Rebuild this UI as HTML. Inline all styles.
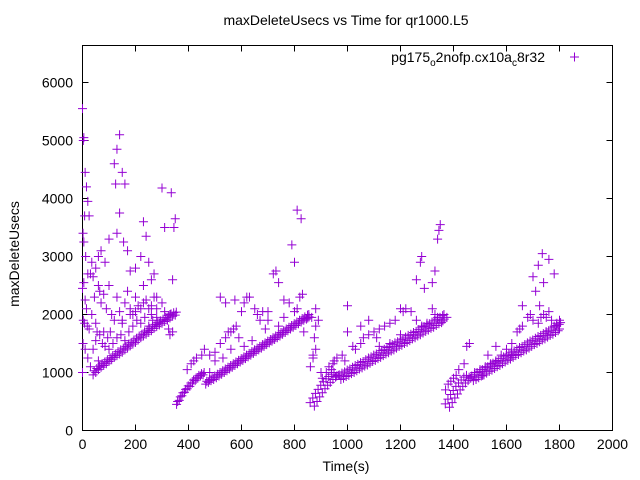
<!DOCTYPE html>
<html><head><meta charset="utf-8"><style>
html,body{margin:0;padding:0;background:#fff;}
svg{display:block;font-family:"Liberation Sans",sans-serif;}
</style></head><body>
<svg id="chart" width="640" height="480">
<text x="346" y="25" text-anchor="middle" font-size="14">maxDeleteUsecs vs Time for qr1000.L5</text>
<text x="346" y="471" text-anchor="middle" font-size="14">Time(s)</text>
<text transform="translate(19,254) rotate(-90)" text-anchor="middle" font-size="14">maxDeleteUsecs</text>
<g id="axes"></g>
<g id="points"></g>
<g>
<text x="545" y="62" text-anchor="end" font-size="14">pg175<tspan font-size="10" dy="4">o</tspan><tspan dy="-4">2nofp.cx10a</tspan><tspan font-size="10" dy="4">c</tspan><tspan dy="-4">8r32</tspan></text>
<path d="M570,57h9M574.5,52.5v9" stroke="#9400d3" stroke-width="1"/>
</g>
</svg>
<script>
const xTicks=[0,200,400,600,800,1000,1200,1400,1600,1800,2000];
const yTicks=[0,1000,2000,3000,4000,5000,6000];
const rampT=[40,50,60,70,80,90,100,110,120,130,140,150,160,170,180,190,200,210,220,230,240,250,260,270,280,290,300,310,320,330,340,350,
355,365,375,385,395,405,415,425,435,445,455,465,475,485,495,505,515,525,535,545,555,565,575,585,595,605,615,625,635,645,655,665,675,685,695,705,715,725,735,745,755,765,775,785,795,805,815,825,835,845,850,
855,865,875,885,895,905,915,925,935,945,955,965,975,985,995,1005,1015,1025,1035,1045,1055,1065,1075,1085,1095,1105,1115,1125,1135,1145,1155,1165,1175,1185,1195,1205,1215,1225,1235,1245,1255,1265,1275,1285,1295,1305,1315,1325,1335,1345,1355,1360,
1365,1375,1385,1395,1405,1415,1425,1435,1445,1455,1465,1475,1485,1495,1505,1515,1525,1535,1545,1555,1565,1575,1585,1595,1605,1615,1625,1635,1645,1655,1665,1675,1685,1695,1705,1715,1725,1735,1745,1755,1765,1775,1785,1795,1800];
const rampV=[960,1000,1050,1090,1120,1150,1190,1220,1260,1290,1320,1350,1390,1420,1460,1490,1520,1560,1600,1630,1660,1690,1720,1760,1790,1820,1850,1880,1910,1940,1970,1990,
450,520,600,660,720,760,820,860,900,940,960,800,830,860,880,910,940,970,1000,1030,1060,1090,1120,1150,1180,1210,1240,1270,1300,1330,1360,1390,1420,1450,1480,1510,1540,1570,1600,1630,1660,1690,1720,1750,1780,1810,1840,1870,1900,1920,1940,1960,1950,
420,500,580,650,720,780,830,880,920,950,880,900,930,950,980,1000,1030,1060,1080,1110,1130,1160,1190,1210,1240,1260,1290,1320,1340,1370,1390,1420,1450,1470,1500,1520,1550,1580,1600,1630,1650,1680,1710,1730,1760,1780,1810,1840,1860,1890,1920,1950,
400,480,560,630,700,760,820,860,900,860,880,910,940,960,990,1020,1040,1070,1100,1120,1150,1180,1210,1230,1260,1290,1310,1340,1370,1390,1420,1450,1480,1500,1530,1560,1580,1610,1640,1660,1690,1720,1750,1770,1800];
const rampV2=[1030,1070,1110,1150,1180,1220,1250,1290,1320,1360,1390,1420,1450,1490,1520,1560,1590,1630,1660,1700,1730,1760,1800,1830,1860,1890,1920,1950,1980,2010,2030,2040,
500,580,650,710,770,820,870,910,950,980,1000,850,880,910,940,970,1000,1030,1060,1090,1120,1150,1180,1210,1240,1270,1300,1330,1360,1390,1420,1450,1480,1510,1540,1570,1600,1630,1660,1690,1720,1750,1780,1810,1840,1870,1900,1930,1960,1990,2000,
480,560,640,710,780,840,890,930,970,1000,940,960,990,1010,1040,1060,1090,1120,1140,1170,1190,1220,1250,1270,1300,1320,1350,1380,1400,1430,1450,1480,1510,1530,1560,1580,1610,1640,1660,1690,1710,1740,1770,1790,1820,1840,1870,1900,1920,1950,1980,2000,
460,540,620,690,760,820,870,920,950,920,940,970,1000,1020,1050,1080,1100,1130,1160,1180,1210,1240,1270,1290,1320,1350,1370,1400,1430,1450,1480,1510,1540,1560,1590,1620,1640,1670,1700,1720,1750,1780,1810,1830,1860];
const scatT=[0,5,3,10,15,20,25,8,2,5,12,20,5,0,10,15,3,8,18,25,2,10,0,30,35,40,50,60,65,70,80,90,100,110,120,130,140,150,160,170,180,190,200,210,220,230,240,250,260,270,280,290,300,310,320,330,340,350,345,335,300,310,240,230,120,130,140,125,150,160,130,140,155,170,180,200,220,250,260,270,100,85,70,60,45,35,50,55,65,75,85,95,105,115,130,145,160,175,190,205,220,235,250,265,280,40,20,60,30,50,80,100,150,180,200,230,260,280,325,340,330,
395,410,420,430,450,460,480,500,520,540,550,560,570,580,600,610,620,630,650,660,670,680,700,720,730,740,760,780,800,810,820,830,790,800,825,810,560,590,640,690,740,520,540,575,700,760,835,480,500,530,610,
860,870,880,875,890,880,870,900,905,920,930,945,950,960,980,990,1000,1020,1030,1050,1060,1080,1100,1110,1120,1140,1160,1180,1200,1210,1220,1240,1260,1280,1300,1320,1330,1340,1260,1275,1290,1280,1320,1340,1345,1350,1330,880,1000,1120,1160,1200,940,1050,1080,
1370,1380,1390,1400,1410,1420,1440,1450,1460,1480,1500,1520,1540,1560,1580,1600,1620,1640,1650,1660,1680,1690,1700,1720,1730,1740,1750,1760,1770,1780,1800,1790,1660,1700,1720,1740,1760,1780,1710,1725,1735,1750,1620,1560,1530,1510];
const scatV=[5550,5050,5000,4450,4200,3950,3700,3700,3400,3250,3000,2700,2550,2450,2250,2100,1900,1850,1800,1750,1500,1400,1000,2700,2900,2650,2800,3000,2400,2200,2350,2100,2500,2000,1900,2300,2050,1850,2200,2400,2100,2000,2300,2150,2100,2500,2250,2100,2000,2300,2100,1850,2200,2050,1900,2000,2600,3650,3500,4100,4180,3500,3350,3600,4600,4850,5100,4250,4450,4250,3400,3750,3250,3100,2750,2800,3000,2900,2600,2700,3300,2900,3100,2500,2300,2000,1850,1700,1650,1500,1450,1600,1700,1500,1600,1650,1550,1700,1800,1900,1850,1950,1800,1900,1950,1400,1250,1200,1100,1550,1700,1400,1900,2000,2050,2200,2150,2300,1750,1700,1650,
1050,1150,1200,1250,1300,1400,1300,1350,1500,1600,1700,1700,1750,1800,2050,2200,2300,2300,2100,2000,1900,2050,2050,2700,2750,2550,2250,2200,2050,2100,2300,2350,3200,2900,3650,3800,1400,1600,1550,1750,1800,2300,2200,2250,1900,1950,1700,1000,1200,1250,1450,
1100,1250,1400,1600,1900,1800,1300,1000,900,1000,1100,1150,1200,1250,1300,1200,1700,1450,1400,1500,1600,1650,1700,1600,1750,1800,1850,1900,2100,2050,2100,2050,1900,1800,1850,2100,2000,1950,2600,2900,2450,3000,2550,3300,3450,3550,2750,2100,2150,1450,1500,1650,1050,1800,1900,
700,800,850,900,950,1050,1150,1450,1500,1000,1050,1100,1150,1200,1300,1400,1500,1700,1750,1800,1950,2000,1900,1850,1950,2000,1950,2050,1900,1800,1900,1850,2150,2650,2850,2550,2950,2700,2400,2150,3050,1700,1300,1450,1300,950];
const X0=82.5,X1=612.5,Y0=430.5,Y1=45.5;
function xs(t){return X0+(t/2000)*(X1-X0);}
function ys(v){return Y0-(v/1000)*58;}
const NS="http://www.w3.org/2000/svg";
const axes=document.getElementById('axes');
const frame=document.createElementNS(NS,'rect');
frame.setAttribute('x',X0);frame.setAttribute('y',Y1);frame.setAttribute('width',X1-X0);frame.setAttribute('height',Y0-Y1);
frame.setAttribute('fill','none');frame.setAttribute('stroke','#000');frame.setAttribute('stroke-width','1');


axes.appendChild(frame);
xTicks.forEach(t=>{
 const x=xs(t);
 const p=document.createElementNS(NS,'path');
 p.setAttribute('d',`M${x},${Y0}v-6M${x},${Y1}v6`);p.setAttribute('stroke','#000');
 
 
 axes.appendChild(p);
 const tx=document.createElementNS(NS,'text');
 tx.setAttribute('x',x);tx.setAttribute('y',449);tx.setAttribute('text-anchor','middle');tx.setAttribute('font-size','14');
 tx.textContent=t;
 
 
 axes.appendChild(tx);
});
yTicks.forEach(v=>{
 const y=ys(v);
 const p=document.createElementNS(NS,'path');
 p.setAttribute('d',`M${X0},${y}h6M${X1},${y}h-6`);p.setAttribute('stroke','#000');
 
 
 axes.appendChild(p);
 const tx=document.createElementNS(NS,'text');
 tx.setAttribute('x',73);tx.setAttribute('y',y+5);tx.setAttribute('text-anchor','end');tx.setAttribute('font-size','14');
 tx.textContent=v;
 
 
 axes.appendChild(tx);
});
const pts=document.getElementById('points');
function plus(t,v){
 const x=xs(t),y=ys(v);
 const p=document.createElementNS(NS,'path');
 p.setAttribute('d',`M${x-4.5},${y}h9M${x},${y-4.5}v9`);
 p.setAttribute('stroke','#9400d3');p.setAttribute('stroke-width','1');
 
 
 pts.appendChild(p);
}
rampT.forEach((t,i)=>plus(t,rampV[i]));
rampT.forEach((t,i)=>plus(t+4,rampV2[i]));
scatT.forEach((t,i)=>plus(t,scatV[i]));
</script>
</body></html>
